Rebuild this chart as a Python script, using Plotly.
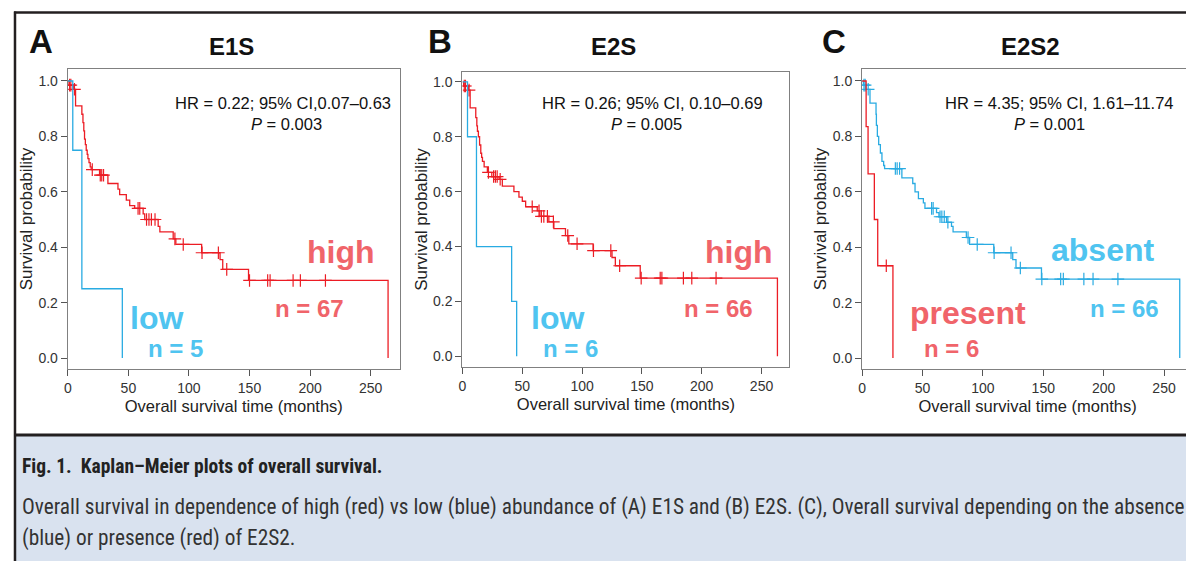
import numpy as np
import plotly.graph_objects as go

W, H = 1194, 561

# ---------------- data ----------------
# Panel A: E1S
A_high_t = [1.0, 4.7, 6.4, 11.6, 12.5, 13.2, 13.8, 14.5, 15.2, 16.0, 16.6, 17.5, 18.5, 19.3,
            26.2, 33.1, 41.4, 42.8, 48.3, 51.1, 55.2, 62.2, 63.5, 74.6, 76.0, 87.0, 89.2,
            110.5, 125.7, 127.9, 149.2, 264.4]
A_high_s = [0.985, 0.97, 0.91, 0.88, 0.85, 0.82, 0.79, 0.77, 0.75, 0.735, 0.72, 0.705, 0.69, 0.68,
            0.66, 0.63, 0.61, 0.59, 0.57, 0.55, 0.54, 0.52, 0.50, 0.475, 0.455, 0.43, 0.41,
            0.38, 0.355, 0.32, 0.28, 0.0]
A_high_cens = [1.5, 2.5, 5.5, 20.2, 26.8, 28.0, 29.5, 58.0, 59.4, 65.0, 67.0, 69.0, 72.0, 88.4,
               95.3, 110.8, 124.3, 131.2, 150.0, 165.0, 167.0, 186.0, 192.0, 212.7]
A_low_t = [4.1, 11.6, 45.0]
A_low_s = [0.75, 0.25, 0.0]
A_low_cens = []

# Panel B: E2S
B_high_t = [1.0, 5.0, 6.4, 11.1, 12.0, 12.5, 13.3, 14.3, 15.3, 16.0, 16.7, 18.1, 20.8, 24.5,
            30.6, 33.3, 43.0, 47.2, 50.0, 52.8, 62.5, 64.7, 72.2, 76.4, 86.1, 88.9, 109.2,
            125.0, 127.8, 148.6, 263.3]
B_high_s = [0.985, 0.97, 0.905, 0.87, 0.84, 0.82, 0.80, 0.77, 0.74, 0.725, 0.71, 0.69, 0.67, 0.655,
            0.645, 0.62, 0.60, 0.58, 0.565, 0.545, 0.53, 0.51, 0.49, 0.465, 0.44, 0.41, 0.385,
            0.36, 0.33, 0.285, 0.0]
B_high_cens = [1.5, 2.5, 5.5, 21.7, 26.0, 27.5, 29.0, 31.5, 58.3, 64.0, 66.0, 68.0, 71.0, 76.0,
               88.0, 95.8, 109.5, 124.0, 131.4, 149.4, 165.3, 166.7, 184.7, 191.7, 212.0]
B_low_t = [4.2, 11.7, 41.1, 45.3]
B_low_s = [0.8, 0.4, 0.2, 0.0]
B_low_cens = []

# Panel C: E2S2
C_absent_t = [1.0, 3.0, 6.5, 11.5, 11.8, 12.6, 13.7, 15.1, 16.4, 17.8, 18.6, 32.9, 41.9, 43.8,
              46.6, 50.7, 52.0, 61.6, 63.6, 69.9, 74.0, 75.3, 86.3, 89.0, 109.0, 124.7, 127.4,
              148.5, 263.0]
C_absent_s = [0.985, 0.97, 0.92, 0.88, 0.84, 0.80, 0.77, 0.74, 0.71, 0.695, 0.684, 0.65, 0.63, 0.60,
              0.575, 0.56, 0.54, 0.525, 0.51, 0.49, 0.475, 0.455, 0.435, 0.41, 0.38, 0.355, 0.325,
              0.285, 0.0]
C_absent_cens = [1.5, 2.5, 5.0, 27.5, 29.0, 31.0, 57.5, 58.8, 64.5, 66.0, 68.0, 71.0, 87.7, 95.3,
                 109.3, 123.3, 131.0, 148.8, 164.4, 166.6, 183.6, 191.2, 211.8]
C_present_t = [3.3, 4.9, 10.1, 12.9, 25.5]
C_present_s = [0.835, 0.665, 0.5, 0.333, 0.0]
C_present_cens = [20.0]

panel_letters = ["A", "B", "C"]
panel_titles = ["E1S", "E2S", "E2S2"]
hr_texts = ["HR = 0.22; 95% CI,0.07\u20130.63",
            "HR = 0.26; 95% CI, 0.10\u20130.69",
            "HR = 4.35; 95% CI, 1.61\u201311.74"]
p_texts = ["<i>P</i> = 0.003", "<i>P</i> = 0.005", "<i>P</i> = 0.001"]
group_labels = [("high", "n = 67", "low", "n = 5"),
                ("high", "n = 66", "low", "n = 6"),
                ("absent", "n = 66", "present", "n = 6")]
x_ticks = [0, 50, 100, 150, 200, 250]
y_ticks = [0.0, 0.2, 0.4, 0.6, 0.8, 1.0]
caption_title = "Fig. 1.\u00a0\u00a0Kaplan\u2013Meier plots of overall survival."
caption_lines = ["Overall survival in dependence of high (red) vs low (blue) abundance of (A) E1S and (B) E2S. (C), Overall survival depending on the absence",
                 "(blue) or presence (red) of E2S2."]

# ---------------- styling ----------------
RED = "#ec1c24"
BLUE = "#29abe2"
RED_TXT = "#f0646a"
BLUE_TXT = "#4fc4f0"
FONT = "Liberation Sans, Arial, sans-serif"
CAP_FONT = "Liberation Sans Narrow, Arial Narrow, Roboto Condensed, Roboto, sans-serif"

OFF = 8  # page body margin that offsets the figure in the browser


def px(x):
    return (x - OFF) / W


def py(y):
    return 1 - (y - OFF) / H


# panel geometry in pixels: (x_left, x_right, y_top, y_bottom, xmax, ymin, ymax)
geoms = [
    (64, 397, 69, 369, 274.0, -0.0397, 1.0433),
    (460, 788, 72, 367, 273.3, -0.039, 1.036),
    (861, 1193, 69, 369, 274.0, -0.0397, 1.0433),
]

series = [
    [(A_high_t, A_high_s, A_high_cens, RED), (A_low_t, A_low_s, A_low_cens, BLUE)],
    [(B_high_t, B_high_s, B_high_cens, RED), (B_low_t, B_low_s, B_low_cens, BLUE)],
    [(C_absent_t, C_absent_s, C_absent_cens, BLUE), (C_present_t, C_present_s, C_present_cens, RED)],
]


def step_xy(times, surv):
    return [0.0] + list(times), [1.0] + list(surv)


def cens_y(times, surv, ct):
    if len(ct) == 0:
        return []
    t = np.asarray(times)
    s = np.asarray(surv)
    idx = np.searchsorted(t, np.asarray(ct), side="right") - 1
    return [1.0 if i < 0 else float(s[i]) for i in idx]


fig = go.Figure()
layout = dict(
    width=W, height=H, margin=dict(l=0, r=0, t=0, b=0),
    paper_bgcolor="white", plot_bgcolor="white", showlegend=False,
    font=dict(family=FONT, color="#222"),
)
annotations = []
shapes = []

for k, (g, ser) in enumerate(zip(geoms, series)):
    xl, xr, yt, yb, xmax, ymin, ymax = g
    xa = "xaxis" if k == 0 else f"xaxis{k+1}"
    ya = "yaxis" if k == 0 else f"yaxis{k+1}"
    xref = "x" if k == 0 else f"x{k+1}"
    yref = "y" if k == 0 else f"y{k+1}"
    axis_common = dict(showline=True, mirror=True, linecolor="#808080", linewidth=1.3,
                       ticks="outside", ticklen=6, tickcolor="#555", tickwidth=1,
                       showgrid=False, zeroline=False,
                       tickfont=dict(family=FONT, size=14, color="#333"))
    layout[xa] = dict(axis_common, domain=[px(xl), px(xr)], range=[0, xmax],
                      tickvals=x_ticks, anchor=yref,
                      title=dict(text="Overall survival time (months)",
                                 font=dict(family=FONT, size=16.5, color="#222"), standoff=5))
    layout[ya] = dict(axis_common, domain=[py(yb), py(yt)], range=[ymin, ymax],
                      tickvals=y_ticks, tickformat=".1f", anchor=xref,
                      title=dict(text="Survival probability",
                                 font=dict(family=FONT, size=17, color="#222"), standoff=1))
    for (t, s, c, col) in ser:
        xs, ys = step_xy(t, s)
        fig.add_trace(go.Scatter(x=xs, y=ys, mode="lines", line=dict(color=col, width=1.3, shape="hv"),
                                 xaxis=xref, yaxis=yref, hoverinfo="skip"))
        if len(c):
            fig.add_trace(go.Scatter(x=c, y=cens_y(t, s, c), mode="markers",
                                     marker=dict(symbol="cross-thin", size=9,
                                                 line=dict(color=col, width=1.2)),
                                     xaxis=xref, yaxis=yref, hoverinfo="skip"))

# titles, letters, stats and group labels (pixel positions of text centres)
letter_x = [37, 437, 833]
title_x = [228, 612, 1030]
hr_x = [280, 651, 1059]
p_x = [283, 645, 1049]
lab_pos = [
    [(338, 252), (307, 308), (153, 318), (172, 348)],
    [(737, 252), (717, 308), (555, 318), (568, 348)],
    [(1102, 250), (1124, 308), (967, 313), (951, 348)],
]
lab_colors = [[RED_TXT, RED_TXT, BLUE_TXT, BLUE_TXT],
              [RED_TXT, RED_TXT, BLUE_TXT, BLUE_TXT],
              [BLUE_TXT, BLUE_TXT, RED_TXT, RED_TXT]]
lab_sizes = [32, 24, 32, 24]


def ann(x, y, text, size, color, family=FONT, xanchor="center"):
    annotations.append(dict(x=px(x), y=py(y), xref="paper", yref="paper",
                            xanchor=xanchor, yanchor="middle", text=text, showarrow=False,
                            font=dict(family=family, size=size, color=color)))


for k in range(3):
    ann(letter_x[k], 42, f"<b>{panel_letters[k]}</b>", 33, "#111")
    ann(title_x[k], 46, f"<b>{panel_titles[k]}</b>", 24, "#111")
    ann(hr_x[k], 103, hr_texts[k], 16.5, "#111")
    ann(p_x[k], 124, p_texts[k], 16.5, "#111")
    for j in range(4):
        lx, ly = lab_pos[k][j]
        ann(lx, ly, f"<b>{group_labels[k][j]}</b>", lab_sizes[j], lab_colors[k][j])

# frame and caption box
shapes.append(dict(type="rect", xref="paper", yref="paper", x0=px(11), x1=1.05, y0=-0.1, y1=py(436),
                   fillcolor="#d9e2ef", line=dict(width=0), layer="below"))
shapes.append(dict(type="line", xref="paper", yref="paper", x0=px(10), x1=1.05, y0=py(12.5), y1=py(12.5),
                   line=dict(color="#231f20", width=2.5)))
shapes.append(dict(type="line", xref="paper", yref="paper", x0=px(11), x1=px(11), y0=py(11.5), y1=-0.1,
                   line=dict(color="#231f20", width=2.5)))
shapes.append(dict(type="line", xref="paper", yref="paper", x0=px(10), x1=1.05, y0=py(435), y1=py(435),
                   line=dict(color="#231f20", width=3)))

ann(16, 466, f"<b>{caption_title}</b>", 19.5, "#222", family=CAP_FONT, xanchor="left")
for i, ln in enumerate(caption_lines):
    ann(16, 507 + 31 * i, ln, 21.3, "#333", family=CAP_FONT, xanchor="left")

layout["annotations"] = annotations
layout["shapes"] = shapes
fig.update_layout(**layout)
fig.write_html("out.html")
